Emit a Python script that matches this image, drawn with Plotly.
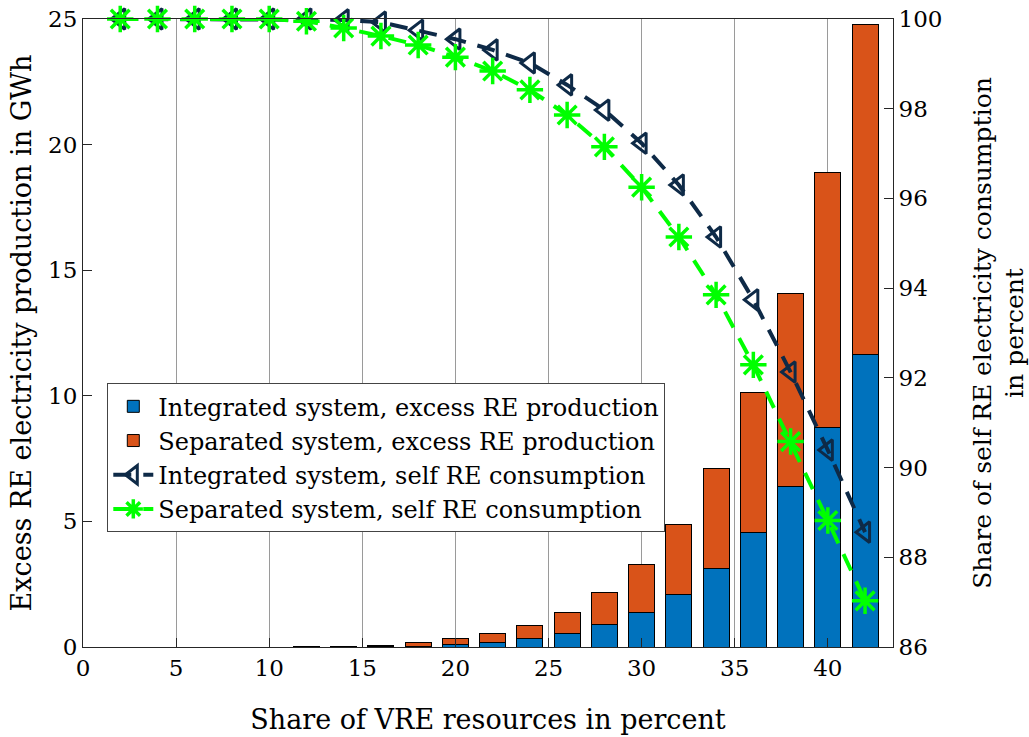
import plotly.graph_objects as go

# share of VRE resources (%)
vre_share = [2, 4, 6, 8, 10, 12, 14, 16, 18, 20, 22, 24, 26, 28, 30, 32, 34, 36, 38, 40, 42]

# excess RE production in GWh (stacked segments)
integrated_excess = [0, 0, 0, 0, 0, 0, 0.005, 0.01, 0.04, 0.09, 0.19, 0.32, 0.55, 0.9,
                     1.39, 2.11, 3.13, 4.54, 6.4, 8.75, 11.63]
separated_excess = [0, 0, 0, 0, 0, 0.005, 0.025, 0.06, 0.12, 0.23, 0.34, 0.53, 0.81, 1.26,
                    1.89, 2.76, 3.97, 5.61, 7.66, 10.15, 13.17]

# share of self RE consumption in percent
integrated_self = [100, 100, 100, 100, 100, 100, 99.98, 99.93, 99.75, 99.55, 99.31, 99.02,
                   98.53, 97.97, 97.23, 96.30, 95.14, 93.74, 92.13, 90.39, 88.56]
separated_self = [100, 100, 100, 100, 100, 99.95, 99.8, 99.62, 99.42, 99.15, 98.84, 98.42,
                  97.86, 97.15, 96.25, 95.14, 93.85, 92.29, 90.58, 88.82, 87.03]

x_ticks = [0, 5, 10, 15, 20, 25, 30, 35, 40]

FONT = "DejaVu Serif"
AXIS = "#262626"

fig = go.Figure()

fig.add_trace(go.Bar(
    x=vre_share, y=integrated_excess, width=1.4,
    name="Integrated system, excess RE production",
    marker=dict(color="#0072BD", line=dict(color="black", width=1)),
))
fig.add_trace(go.Bar(
    x=vre_share, y=separated_excess, width=1.4,
    name="Separated system, excess RE production",
    marker=dict(color="#D95319", line=dict(color="black", width=1)),
))
fig.add_trace(go.Scatter(
    x=vre_share, y=integrated_self, yaxis="y2",
    mode="lines+markers", cliponaxis=False,
    name="Integrated system, self RE consumption",
    line=dict(color="#0E2A47", width=4, dash="18px,12px"),
    marker=dict(symbol="triangle-left-open", size=18, color="#0E2A47",
                line=dict(width=3, color="#0E2A47")),
))
fig.add_trace(go.Scatter(
    x=vre_share, y=separated_self, yaxis="y2",
    mode="lines+markers", cliponaxis=False,
    name="Separated system, self RE consumption",
    line=dict(color="#00FF00", width=4, dash="18px,12px"),
    marker=dict(symbol="asterisk-open", size=22, color="#00FF00",
                line=dict(width=3.5, color="#00FF00")),
))

fig.update_layout(
    barmode="stack",
    width=1029, height=737,
    plot_bgcolor="white", paper_bgcolor="white",
    font=dict(family=FONT, size=23, color="black"),
    margin=dict(l=83, r=136, t=19, b=90, autoexpand=False),
    showlegend=True,
    legend=dict(
        x=0.03, y=0.42, xanchor="left", yanchor="top",
        traceorder="normal",
        bgcolor="white", bordercolor="#444", borderwidth=1,
        font=dict(family=FONT, size=24), tracegroupgap=0,
        itemwidth=40,
    ),
    xaxis=dict(
        range=[0, 43.5], tickvals=x_ticks, automargin=False,
        showgrid=True, gridcolor="#9a9a9a", gridwidth=1,
        showline=True, linecolor=AXIS, linewidth=1, mirror=True,
        ticks="inside", ticklen=9, tickcolor=AXIS,
        tickfont=dict(size=23),
        zeroline=False,
        title=dict(text="Share of VRE resources in percent", font=dict(size=27), standoff=30),
    ),
    yaxis=dict(
        range=[0, 25], dtick=5, automargin=False,
        showgrid=False, zeroline=False,
        showline=True, linecolor=AXIS, linewidth=1,
        ticks="inside", ticklen=9, tickcolor=AXIS,
        tickfont=dict(size=23),
        title=dict(text="Excess RE electricity production in GWh", font=dict(size=27), standoff=8),
    ),
    yaxis2=dict(
        range=[86, 100], dtick=2, overlaying="y", side="right", automargin=False,
        showgrid=False, zeroline=False,
        showline=True, linecolor=AXIS, linewidth=1,
        ticks="inside", ticklen=9, tickcolor=AXIS,
        tickfont=dict(size=23),
        title=dict(text="Share of self RE electricity consumption<br>in percent",
                   font=dict(size=25), standoff=40),
    ),
)

# drop the default 8px page margin so the figure fills the window
fig.write_html(
    "out.html",
    config={"displayModeBar": False},
    post_script="document.body.style.margin = '0';",
)
